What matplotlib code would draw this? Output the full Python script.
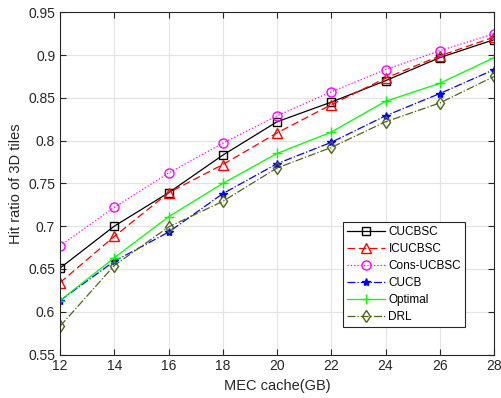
import matplotlib
matplotlib.use("Agg")
import matplotlib.pyplot as plt

plt.rcParams['font.family'] = ['Liberation Sans', 'DejaVu Sans']

cache = [12, 14, 16, 18, 20, 22, 24, 26, 28]
cucbsc = [0.651, 0.700, 0.739, 0.783, 0.822, 0.845, 0.870, 0.897, 0.918]
icucbsc = [0.634, 0.688, 0.739, 0.772, 0.809, 0.842, 0.873, 0.899, 0.921]
cons_ucbsc = [0.677, 0.722, 0.762, 0.797, 0.829, 0.857, 0.883, 0.905, 0.925]
cucb = [0.613, 0.659, 0.693, 0.738, 0.773, 0.798, 0.829, 0.855, 0.883]
optimal = [0.613, 0.663, 0.711, 0.750, 0.785, 0.810, 0.846, 0.867, 0.897]
drl = [0.583, 0.654, 0.699, 0.729, 0.768, 0.792, 0.822, 0.844, 0.875]

xticks = [12, 14, 16, 18, 20, 22, 24, 26, 28]
yticks = [0.55, 0.6, 0.65, 0.7, 0.75, 0.8, 0.85, 0.9, 0.95]
ytick_labels = ['0.55', '0.6', '0.65', '0.7', '0.75', '0.8', '0.85', '0.9', '0.95']

fig = plt.figure(figsize=(5.01, 3.98), dpi=100)
ax = fig.add_axes([60/501, 1 - 354.5/398, (494-60)/501, (354.5-12.3)/398])

drl_color = (0.3, 0.4, 0.1)
lw = 0.9
ax.plot(cache, cucbsc, '-', color='black', marker='s', markersize=5.5, markerfacecolor='none', lw=lw, label='CUCBSC')
ax.plot(cache, icucbsc, '--', color='red', marker='^', markersize=7, markerfacecolor='none', lw=lw, dashes=(6, 3), label='ICUCBSC')
ax.plot(cache, cons_ucbsc, ':', color='magenta', marker='o', markersize=6.5, markerfacecolor='none', lw=lw, label='Cons-UCBSC')
ax.plot(cache, cucb, '-.', color='blue', marker='*', markersize=6, lw=lw, label='CUCB')
ax.plot(cache, optimal, '-', color=(0, 1, 0), marker='+', markersize=7, lw=lw, label='Optimal')
ax.plot(cache, drl, '-.', color=drl_color, marker='d', markersize=6, markerfacecolor='none', lw=lw, label='DRL')

ax.set_xlim(12, 28)
ax.set_ylim(0.55, 0.95)
ax.set_xticks(xticks)
ax.set_yticks(yticks)
ax.set_yticklabels(ytick_labels)
ax.grid(True, color='#e3e3e3', lw=0.8)
ax.set_axisbelow(True)
ax.tick_params(direction='in', top=True, right=True, labelsize=10, colors='#262626', length=4)
for s in ax.spines.values():
    s.set_color('#262626')
    s.set_linewidth(0.8)
ax.set_xlabel('MEC cache(GB)', fontsize=10.5, color='#262626')
ax.set_ylabel('Hit ratio of 3D tiles', fontsize=10.5, color='#262626')

leg = ax.legend(loc='lower left', bbox_to_anchor=((343-60)/434, (354.5-327)/342.2), fontsize=8.5, frameon=True, fancybox=False,
                edgecolor='#262626', framealpha=1, handlelength=3.2, borderpad=0.35, labelspacing=0.42,
                handletextpad=0.3, borderaxespad=0)
leg.get_frame().set_linewidth(0.8)

fig.savefig('out.png', dpi=100)
